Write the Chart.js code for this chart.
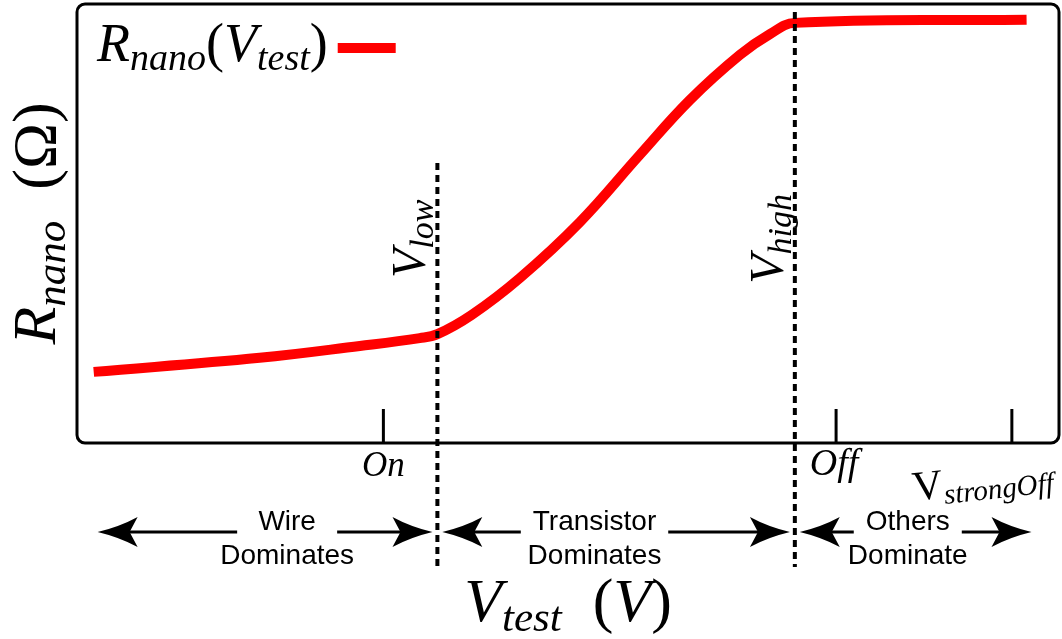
<!DOCTYPE html>
<html>
<head>
<meta charset="utf-8">
<script src="https://cdn.jsdelivr.net/npm/chart.js@4/dist/chart.umd.min.js"></script>
<style>
  body { margin: 0; background: #fff; }
  canvas { display: block; }
</style>
</head>
<body>
<canvas id="rnano-chart" width="1062" height="639"></canvas>
<script>
// R_nano vs V_test (arbitrary units, axes have no numbers)
var vTest = [0.17, 1.86, 2.88, 3.49, 3.67, 4.02, 4.51, 5.12, 5.73, 6.24, 6.75, 7.06, 7.31, 9.67];
var rNano = [1.62, 1.94, 2.21, 2.39, 2.48, 2.92, 3.76, 5.03, 6.56, 7.81, 8.84, 9.32, 9.57, 9.64];

// marked voltages on the x axis
var tickNames = ['On', 'Off', 'strongOff'];
var tickValues = [3.12, 7.73, 9.52];

// dashed boundaries
var boundaryNames = ['low', 'high'];
var boundaryValues = [3.67, 7.31];

// regions under the axis
var regionNames = [['Wire', 'Dominates'], ['Transistor', 'Dominates'], ['Others', 'Dominate']];
var regionStart = [0.21, 3.72, 7.36];
var regionEnd = [3.62, 7.26, 9.72];
var regionMid = [2.14, 5.27, 8.46];

var SERIF = '"Liberation Serif", "DejaVu Serif", serif';
var SANS = '"Liberation Sans", Arial, sans-serif';

// draw text with subscripts; kinds: i = italic, u = upright, s = italic subscript
function mathText(ctx, parts, x, y, size, align) {
    var fonts = {
        i: 'italic ' + size + 'px ' + SERIF,
        u: size + 'px ' + SERIF,
        s: 'italic ' + Math.round(size * 0.7) + 'px ' + SERIF
    };
    var w = 0;
    parts.forEach(function(p) {
        ctx.font = fonts[p[1]];
        w += ctx.measureText(p[0]).width;
    });
    var cx = align === 'center' ? x - w / 2 : x;
    ctx.textAlign = 'left';
    ctx.textBaseline = 'alphabetic';
    parts.forEach(function(p) {
        ctx.font = fonts[p[1]];
        ctx.fillText(p[0], cx, p[1] === 's' ? y + size * 0.16 : y);
        cx += ctx.measureText(p[0]).width;
    });
    return w;
}

function arrowHead(ctx, tipX, y, dir) {
    var len = 40, half = 15, notch = 8;
    ctx.beginPath();
    ctx.moveTo(tipX, y);
    ctx.quadraticCurveTo(tipX - dir * len * 0.55, y - half * 0.35, tipX - dir * len, y - half);
    ctx.lineTo(tipX - dir * (len - notch), y);
    ctx.lineTo(tipX - dir * len, y + half);
    ctx.quadraticCurveTo(tipX - dir * len * 0.55, y + half * 0.35, tipX, y);
    ctx.closePath();
    ctx.fill();
}

var annotations = {
    id: 'annotations',
    afterDatasetsDraw: function(chart) {
        var ctx = chart.ctx;
        var a = chart.chartArea;
        var xs = chart.scales.x;
        var ys = chart.scales.y;
        ctx.save();
        ctx.fillStyle = '#000';
        ctx.strokeStyle = '#000';

        // plot frame
        ctx.lineWidth = 3;
        ctx.beginPath();
        if (ctx.roundRect) {
            ctx.roundRect(a.left, a.top, a.right - a.left, a.bottom - a.top, 8);
        } else {
            ctx.rect(a.left, a.top, a.right - a.left, a.bottom - a.top);
        }
        ctx.stroke();

        // short ticks rising from the bottom
        tickValues.forEach(function(v) {
            var x = xs.getPixelForValue(v);
            ctx.beginPath();
            ctx.moveTo(x, a.bottom);
            ctx.lineTo(x, a.bottom - 34);
            ctx.stroke();
        });

        // tick labels
        var xOn = xs.getPixelForValue(tickValues[0]);
        mathText(ctx, [[tickNames[0], 'i']], xOn, a.bottom + 33, 35, 'center');
        var xOff = xs.getPixelForValue(tickValues[1]);
        mathText(ctx, [[tickNames[1], 'i']], xOff - 2, a.bottom + 32, 38, 'center');
        var xStrong = xs.getPixelForValue(tickValues[2]);
        ctx.save();
        ctx.translate(xStrong - 28, a.bottom + 50);
        ctx.rotate(-0.11);
        mathText(ctx, [['V', 'u'], [tickNames[2], 's']], 0, 0, 42, 'center');
        ctx.restore();

        // dashed boundaries
        ctx.lineWidth = 4;
        ctx.setLineDash([7, 5]);
        var tops = [6.38, 9.82];
        boundaryValues.forEach(function(v, i) {
            var x = xs.getPixelForValue(v);
            ctx.beginPath();
            ctx.moveTo(x, ys.getPixelForValue(tops[i]));
            ctx.lineTo(x, a.bottom + 124);
            ctx.stroke();
        });
        ctx.setLineDash([]);

        // boundary labels, rotated
        boundaryValues.forEach(function(v, i) {
            var x = xs.getPixelForValue(v);
            ctx.save();
            ctx.translate(x - 12, ys.getPixelForValue(4.65));
            ctx.rotate(-Math.PI / 2);
            mathText(ctx, [['V', 'i'], [boundaryNames[i], 's']], 0, 0, 48, 'center');
            ctx.restore();
        });

        // region arrows and labels
        var ay = a.bottom + 89;
        regionNames.forEach(function(lines, i) {
            var x0 = xs.getPixelForValue(regionStart[i]);
            var x1 = xs.getPixelForValue(regionEnd[i]);
            var xm = xs.getPixelForValue(regionMid[i]);
            ctx.font = '28px ' + SANS;
            var gap = Math.max(ctx.measureText(lines[0]).width / 2 + 12, 50);
            ctx.lineWidth = 3;
            ctx.beginPath();
            ctx.moveTo(x0 + 30, ay);
            ctx.lineTo(xm - gap, ay);
            ctx.moveTo(xm + gap, ay);
            ctx.lineTo(x1 - 30, ay);
            ctx.stroke();
            arrowHead(ctx, x0, ay, -1);
            arrowHead(ctx, x1, ay, 1);
            ctx.textAlign = 'center';
            ctx.textBaseline = 'alphabetic';
            ctx.fillText(lines[0], xm, ay - 2);
            ctx.fillText(lines[1], xm, ay + 32);
        });

        // axis titles
        mathText(ctx, [['V', 'i'], ['test', 's'], ['  (', 'u'], ['V', 'i'], [')', 'u']],
            (a.left + a.right) / 2, a.bottom + 178, 62, 'center');
        ctx.save();
        ctx.translate(a.left - 22, (a.top + a.bottom) / 2);
        ctx.rotate(-Math.PI / 2);
        mathText(ctx, [['R', 'i'], ['nano', 's'], ['  (Ω)', 'u']], 0, 0, 62, 'center');
        ctx.restore();

        // legend
        var lw = mathText(ctx, [['R', 'i'], ['nano', 's'], ['(', 'u'], ['V', 'i'], ['test', 's'], [')', 'u']],
            a.left + 20, a.top + 57, 54, 'left');
        ctx.fillStyle = '#ff0000';
        ctx.fillRect(a.left + 20 + lw + 10, a.top + 39, 58, 10);

        ctx.restore();
    }
};

var points = vTest.map(function(v, i) { return { x: v, y: rNano[i] }; });

new Chart(document.getElementById('rnano-chart'), {
    type: 'line',
    data: {
        datasets: [{
            label: 'R_nano(V_test)',
            data: points,
            borderColor: '#ff0000',
            borderWidth: 10,
            pointRadius: 0,
            tension: 0.4,
            fill: false
        }]
    },
    options: {
        responsive: false,
        animation: false,
        layout: { padding: { left: 77, top: 4, right: 3, bottom: 196 } },
        plugins: {
            legend: { display: false },
            tooltip: { enabled: false }
        },
        scales: {
            x: { type: 'linear', min: 0, max: 10, display: false },
            y: { min: 0, max: 10, display: false }
        }
    },
    plugins: [annotations]
});
</script>
</body>
</html>
